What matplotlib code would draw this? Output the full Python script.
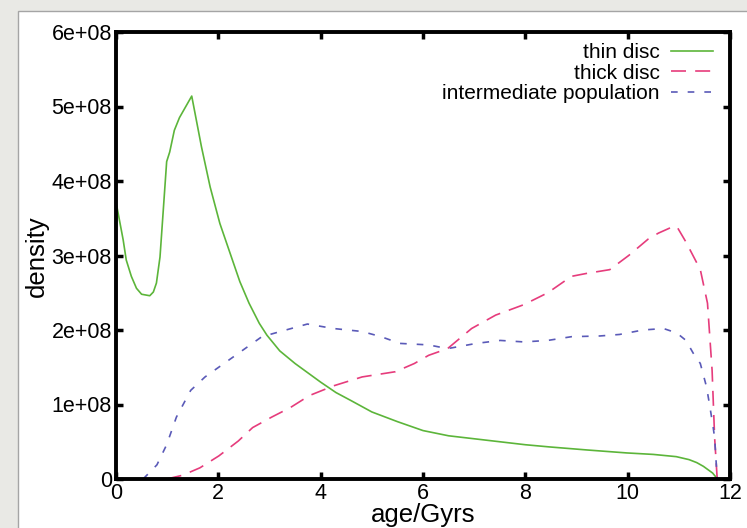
import numpy as np
import matplotlib
matplotlib.use("Agg")
import matplotlib.pyplot as plt
from matplotlib.patches import Rectangle

plt.rcParams['font.family'] = ['Liberation Sans', 'DejaVu Sans']

# values, density in units of 1e8
thin_age = [0.0, 0.14, 0.2, 0.3, 0.4, 0.5, 0.66, 0.73, 0.79, 0.86, 0.92, 0.99, 1.05,
            1.14, 1.24, 1.48, 1.67, 1.84, 2.03, 2.23, 2.42, 2.6, 2.8, 2.95, 3.2, 3.5,
            3.7, 4.0, 4.3, 4.6, 5.0, 5.5, 6.0, 6.5, 7.0, 7.5, 8.0, 8.48, 9.2, 9.98,
            10.5, 10.95, 11.2, 11.35, 11.48, 11.58, 11.66, 11.72, 11.75]
thin_den = [3.72, 3.21, 2.94, 2.72, 2.56, 2.48, 2.46, 2.51, 2.63, 2.98, 3.57, 4.26, 4.39,
            4.68, 4.85, 5.14, 4.46, 3.92, 3.43, 3.03, 2.65, 2.36, 2.09, 1.93, 1.72, 1.55,
            1.45, 1.30, 1.16, 1.05, 0.90, 0.77, 0.65, 0.58, 0.54, 0.50, 0.46, 0.43, 0.39, 0.35,
            0.33, 0.30, 0.26, 0.22, 0.17, 0.12, 0.08, 0.03, 0.0]

thick_age = [0.99, 1.3, 1.64, 2.01, 2.39, 2.67, 3.04, 3.41, 3.78, 4.25, 4.81, 5.46,
             5.83, 6.11, 6.48, 6.95, 7.42, 7.97, 8.44, 8.9, 9.2, 9.65, 10.02, 10.4,
             10.6, 10.86, 10.96, 11.14, 11.42, 11.56, 11.65, 11.7, 11.75]
thick_den = [0.0, 0.05, 0.15, 0.31, 0.51, 0.69, 0.83, 0.96, 1.12, 1.25, 1.37, 1.44,
             1.55, 1.66, 1.75, 2.02, 2.20, 2.34, 2.50, 2.72, 2.76, 2.81, 3.0, 3.22,
             3.30, 3.38, 3.39, 3.18, 2.81, 2.36, 1.46, 0.55, 0.0]

inter_age = [0.53, 0.8, 0.99, 1.18, 1.46, 1.74, 2.11, 2.48, 2.85, 3.32, 3.74, 4.25,
             4.81, 5.18, 5.55, 6.11, 6.48, 7.04, 7.51, 7.97, 8.44, 8.9, 9.46, 9.84,
             10.3, 10.7, 10.96, 11.14, 11.28, 11.42, 11.54, 11.6, 11.67, 11.7, 11.75]
inter_den = [0.0, 0.19, 0.46, 0.83, 1.19, 1.37, 1.55, 1.73, 1.91, 2.0, 2.08, 2.02,
             1.98, 1.91, 1.82, 1.80, 1.75, 1.82, 1.86, 1.84, 1.86, 1.91, 1.92, 1.94,
             2.0, 2.02, 1.96, 1.86, 1.69, 1.55, 1.24, 1.0, 0.70, 0.55, 0.0]

xticks = [0, 2, 4, 6, 8, 10, 12]
yticks = [0, 1, 2, 3, 4, 5, 6]
ytick_labels = ['0', '1e+08', '2e+08', '3e+08', '4e+08', '5e+08', '6e+08']

W, H = 747, 528
fig = plt.figure(figsize=(W / 100, H / 100), dpi=100, facecolor='#e9e9e5')
# white page panel behind the plot
fig.patches.append(Rectangle((18 / W, -0.01), 1.0, 1 - 11 / H + 0.01,
                             transform=fig.transFigure, facecolor='white',
                             edgecolor='#a5a5a5', linewidth=1.0, zorder=-5))

ax = fig.add_axes([116 / W, 1 - 479 / H, (730 - 116) / W, (479 - 32) / H])
ax.set_zorder(2)
ax.set_facecolor('white')

ax.plot(thin_age, np.array(thin_den) * 1e8, color='#5cb53a', lw=1.2, label='thin disc')
ax.plot(thick_age, np.array(thick_den) * 1e8, color='#e63c7c', lw=1.2,
        dashes=(9, 5.5), label='thick disc')
ax.plot(inter_age, np.array(inter_den) * 1e8, color='#5a5ab8', lw=1.2,
        dashes=(4, 6), label='intermediate population')

ax.set_xlim(0, 12)
ax.set_ylim(0, 6e8)
ax.set_xticks(xticks)
ax.set_yticks([v * 1e8 for v in yticks])
ax.set_yticklabels(ytick_labels)

for s in ax.spines.values():
    s.set_linewidth(2.8)
ax.tick_params(direction='in', length=5, width=2.5, top=True, right=True,
               labelsize=15.5, colors='black')
ax.tick_params(axis='x', pad=3)
ax.tick_params(axis='y', pad=3)

fig.text((116 + 730) / 2 / W, 6 / H, 'age/Gyrs', ha='center', va='baseline',
         fontsize=18.5, zorder=3)
fig.text(37 / W, 1 - 256 / H, 'density', ha='center', va='center', rotation=90,
         fontsize=18.5, zorder=3)

ax.legend(loc='upper right', bbox_to_anchor=(713 / W, 1 - 43 / H),
          bbox_transform=fig.transFigure, frameon=False, markerfirst=False,
          fontsize=15, handlelength=2.0, handletextpad=0.55, labelspacing=0.08,
          borderpad=0, borderaxespad=0)

fig.savefig('out.png', dpi=100, facecolor=fig.get_facecolor())
